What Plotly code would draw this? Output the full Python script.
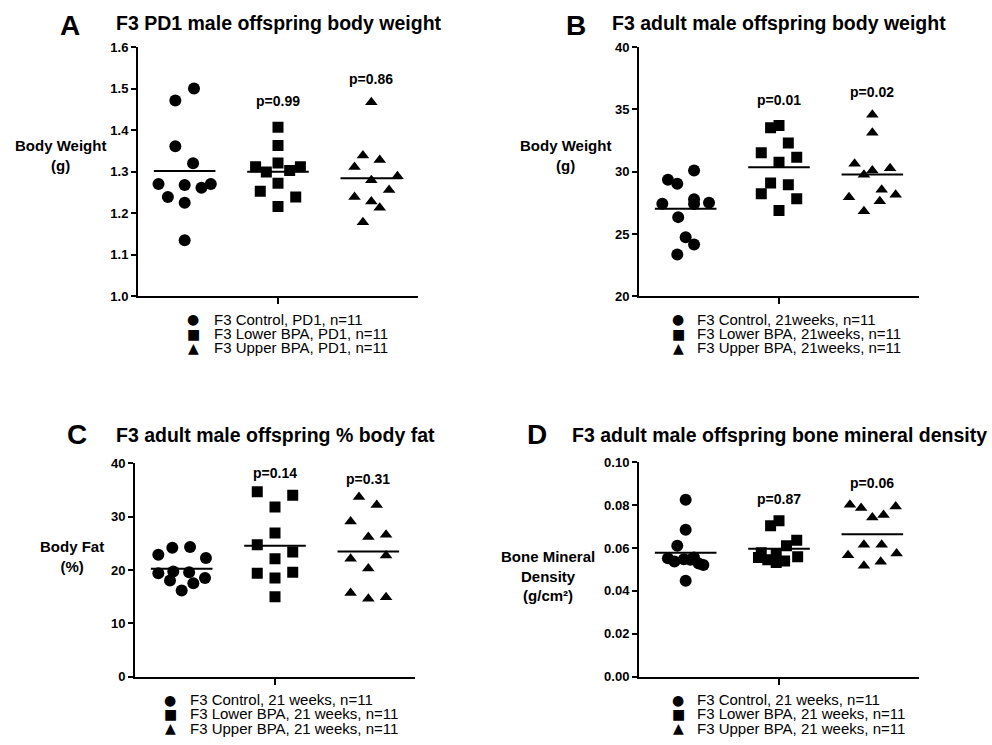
import plotly.graph_objects as go
import numpy as np

# ---------------- data ----------------
group_labels = ["Control", "Lower BPA", "Upper BPA"]
group_pos = [1, 2, 3]

# Panel A: PD1 body weight (g)
A_control = [1.500, 1.471, 1.361, 1.320, 1.270, 1.268, 1.261, 1.270, 1.239, 1.225, 1.135]
A_control_jit = [0.10, -0.10, -0.10, 0.09, -0.28, 0.0, 0.18, 0.28, -0.18, 0.0, 0.0]
A_lower = [1.407, 1.363, 1.312, 1.321, 1.312, 1.299, 1.303, 1.272, 1.253, 1.239, 1.216]
A_lower_jit = [0.0, 0.0, -0.24, 0.0, 0.24, -0.125, 0.125, 0.0, -0.19, 0.19, 0.0]
A_upper = [1.467, 1.339, 1.328, 1.311, 1.289, 1.279, 1.256, 1.239, 1.228, 1.213, 1.178]
A_upper_jit = [0.0, -0.09, 0.09, -0.18, 0.28, 0.0, 0.19, -0.18, 0.0, 0.09, -0.09]

# Panel B: adult body weight (g)
B_control = [29.34, 29.02, 30.09, 27.42, 27.79, 27.40, 27.50, 26.35, 24.74, 24.15, 23.35]
B_control_jit = [-0.19, -0.09, 0.09, -0.25, 0.09, 0.09, 0.25, -0.08, 0.0, 0.09, -0.09]
B_lower = [33.52, 33.71, 32.29, 31.51, 31.16, 30.76, 29.08, 28.94, 28.22, 27.82, 26.88]
B_lower_jit = [-0.09, 0.0, 0.10, -0.19, 0.19, 0.0, -0.09, 0.10, -0.19, 0.19, 0.0]
B_upper = [34.57, 33.12, 30.63, 30.09, 30.28, 29.75, 28.54, 27.95, 28.14, 27.63, 26.83]
B_upper_jit = [0.0, 0.0, -0.19, 0.0, 0.19, -0.09, 0.10, -0.25, 0.25, 0.08, -0.09]

# Panel C: % body fat
C_control = [24.18, 24.30, 22.86, 22.23, 19.40, 19.72, 19.60, 18.02, 18.52, 17.52, 16.14]
C_control_jit = [-0.10, 0.09, -0.25, 0.26, -0.25, -0.09, 0.08, -0.125, 0.25, 0.125, 0.0]
C_lower = [34.66, 34.03, 31.84, 26.94, 24.74, 23.36, 22.10, 19.40, 19.59, 18.52, 15.00]
C_lower_jit = [-0.19, 0.19, 0.0, 0.0, -0.19, 0.19, 0.0, -0.19, 0.19, 0.0, 0.0]
C_upper = [33.70, 32.20, 29.10, 26.20, 26.60, 22.10, 22.70, 20.30, 15.70, 14.60, 14.90]
C_upper_jit = [-0.10, 0.09, -0.19, 0.0, 0.19, -0.19, 0.19, 0.0, -0.19, 0.0, 0.19]

# Panel D: bone mineral density (g/cm2)
D_control = [0.0826, 0.0686, 0.0611, 0.0553, 0.0548, 0.0556, 0.0545, 0.0521, 0.0537, 0.0528, 0.0447]
D_control_jit = [0.0, 0.0, -0.09, -0.19, -0.02, 0.09, 0.05, 0.19, -0.12, 0.14, 0.0]
D_lower = [0.0728, 0.0704, 0.0637, 0.0611, 0.0578, 0.0575, 0.0556, 0.0545, 0.0533, 0.0540, 0.0560]
D_lower_jit = [0.0, -0.09, 0.19, 0.08, -0.19, -0.03, -0.22, -0.12, -0.03, 0.06, 0.20]
D_upper = [0.0802, 0.0787, 0.0743, 0.0754, 0.0794, 0.0615, 0.0615, 0.0567, 0.0575, 0.0517, 0.0536]
D_upper_jit = [-0.24, -0.12, 0.0, 0.12, 0.25, -0.09, 0.10, -0.26, 0.26, -0.09, 0.09]

p_values_A = ["p=0.99", "p=0.86"]
p_values_B = ["p=0.01", "p=0.02"]
p_values_C = ["p=0.14", "p=0.31"]
p_values_D = ["p=0.87", "p=0.06"]

legend_A = ["F3 Control, PD1, n=11", "F3 Lower BPA, PD1, n=11", "F3 Upper BPA, PD1, n=11"]
legend_B = ["F3 Control, 21weeks, n=11", "F3 Lower BPA, 21weeks, n=11", "F3 Upper BPA, 21weeks, n=11"]
legend_C = ["F3 Control, 21 weeks, n=11", "F3 Lower BPA, 21 weeks, n=11", "F3 Upper BPA, 21 weeks, n=11"]
legend_D = ["F3 Control, 21 weeks, n=11", "F3 Lower BPA, 21 weeks, n=11", "F3 Upper BPA, 21 weeks, n=11"]

titles = ["F3 PD1 male offspring body weight", "F3 adult male offspring body weight",
          "F3 adult male offspring % body fat", "F3 adult male offspring bone mineral density"]
letters = ["A", "B", "C", "D"]
ytitles = ["Body Weight<br>(g)", "Body Weight<br>(g)", "Body Fat<br>(%)",
           "Bone Mineral<br>Density<br>(g/cm²)"]
y_ranges = [(1.0, 1.6), (20, 40), (0, 40), (0, 0.10)]
y_dticks = [0.1, 5, 10, 0.02]
y_formats = [".1f", "d", "d", ".2f"]

# ---------------- layout helpers ----------------
W, H = 992, 745
FONT = "Liberation Sans, Arial, Helvetica, sans-serif"
# the page capture shifts and compresses the page vertically a little;
# positions below are given in target pixels and mapped back here
Y_OFF, Y_SCALE = 7.0, 0.979

def px_x(v):
    return v / W

def px_y(v):
    return 1 - ((v - Y_OFF) / Y_SCALE) / H

# plot area boxes in pixels: (left, right, top, bottom)
boxes = [(138, 418, 47, 296), (639, 919, 47, 296), (135, 415, 463, 676), (639, 919, 462, 676)]
letter_pos = [(70, 25), (576, 25), (77, 434), (537, 434)]
title_pos = [(114, 23), (610, 23), (114, 435), (570, 435)]
ytitle_pos = [(60, 155), (565, 155), (72, 556), (548, 575)]
legend_pos = [(193, 212, 319), (678, 695, 319), (170, 188, 699), (678, 695, 699)]
legend_step = 14.3
ptext_y = [(1.469, 1.524), (35.72, 36.39), (38.24, 37.05), (0.0829, 0.0903)]

panels = [
    ((A_control, A_control_jit), (A_lower, A_lower_jit), (A_upper, A_upper_jit), p_values_A, legend_A),
    ((B_control, B_control_jit), (B_lower, B_lower_jit), (B_upper, B_upper_jit), p_values_B, legend_B),
    ((C_control, C_control_jit), (C_lower, C_lower_jit), (C_upper, C_upper_jit), p_values_C, legend_C),
    ((D_control, D_control_jit), (D_lower, D_lower_jit), (D_upper, D_upper_jit), p_values_D, legend_D),
]

symbols = ["circle", "square", "triangle-up"]
sizes = [12, 11, 11]
legend_glyphs = ["●", "■", "▲"]

fig = go.Figure()
annotations = []

for i, panel in enumerate(panels):
    n = "" if i == 0 else str(i + 1)
    xref, yref = "x" + n, "y" + n
    groups = panel[:3]
    pvals = panel[3]
    leg = panel[4]
    for g, (vals, jit) in enumerate(groups):
        vals = np.asarray(vals)
        xs = group_pos[g] + np.asarray(jit)
        fig.add_trace(go.Scatter(
            x=xs, y=vals, mode="markers", xaxis=xref, yaxis=yref,
            name=leg[g], showlegend=False,
            marker=dict(symbol=symbols[g], size=sizes[g], color="black", line=dict(width=0)),
            hoverinfo="y"))
        m = float(np.mean(vals))
        fig.add_trace(go.Scatter(
            x=[group_pos[g] - 0.33, group_pos[g] + 0.33], y=[m, m], mode="lines",
            xaxis=xref, yaxis=yref, showlegend=False,
            line=dict(color="black", width=2), hoverinfo="skip"))
    # p-values
    for k in range(2):
        annotations.append(dict(x=group_pos[k + 1], y=ptext_y[i][k], xref=xref, yref=yref,
                                text="<b>" + pvals[k] + "</b>", showarrow=False,
                                font=dict(family=FONT, size=14, color="black")))
    L, R, T, B = boxes[i]
    lo, hi = y_ranges[i]
    fig.update_layout(**{
        "xaxis" + n: dict(domain=[px_x(L), px_x(R)], range=[0.5, 3.5], showline=True,
                          linecolor="black", linewidth=2, ticks="outside", tickvals=[2],
                          ticktext=[""], ticklen=6, tickwidth=2, tickcolor="black",
                          showgrid=False, zeroline=False, anchor=yref, fixedrange=True),
        "yaxis" + n: dict(domain=[px_y(B), px_y(T)], range=[lo, hi], dtick=y_dticks[i],
                          tick0=lo, tickformat=y_formats[i], showline=True, linecolor="black",
                          linewidth=2, ticks="outside", ticklen=5, tickwidth=2,
                          tickcolor="black", showgrid=False, zeroline=False, anchor=xref,
                          tickfont=dict(family=FONT, size=13, color="black", weight="bold"),
                          fixedrange=True),
    })
    # panel letter and title
    lx, ly = letter_pos[i]
    annotations.append(dict(x=px_x(lx), y=px_y(ly), xref="paper", yref="paper",
                            text="<b>" + letters[i] + "</b>", showarrow=False,
                            xanchor="center", yanchor="middle",
                            font=dict(family=FONT, size=28, color="black")))
    tx, ty = title_pos[i]
    annotations.append(dict(x=px_x(tx), y=px_y(ty), xref="paper", yref="paper",
                            text="<b>" + titles[i] + "</b>", showarrow=False,
                            xanchor="left", yanchor="middle",
                            font=dict(family=FONT, size=19.5, color="black")))
    yx, yy = ytitle_pos[i]
    annotations.append(dict(x=px_x(yx), y=px_y(yy), xref="paper", yref="paper",
                            text="<b>" + ytitles[i] + "</b>", showarrow=False,
                            xanchor="center", yanchor="middle", align="center",
                            font=dict(family=FONT, size=15, color="black")))
    # legend block
    mx, txx, ly0 = legend_pos[i]
    for g in range(3):
        yline = ly0 + g * legend_step
        annotations.append(dict(x=px_x(mx), y=px_y(yline), xref="paper", yref="paper",
                                text=legend_glyphs[g], showarrow=False,
                                xanchor="center", yanchor="middle",
                                font=dict(family="DejaVu Sans", size=14, color="black")))
        annotations.append(dict(x=px_x(txx), y=px_y(yline), xref="paper", yref="paper",
                                text=leg[g], showarrow=False,
                                xanchor="left", yanchor="middle",
                                font=dict(family=FONT, size=15, color="black")))

fig.update_layout(width=W, height=H, margin=dict(l=0, r=0, t=0, b=0),
                  paper_bgcolor="white", plot_bgcolor="white", showlegend=False,
                  annotations=annotations, font=dict(family=FONT, color="black"))

fig.write_html("out.html", config={"displayModeBar": False},
               post_script="document.body.style.margin='0px';"
                           "document.body.style.overflow='hidden';")
